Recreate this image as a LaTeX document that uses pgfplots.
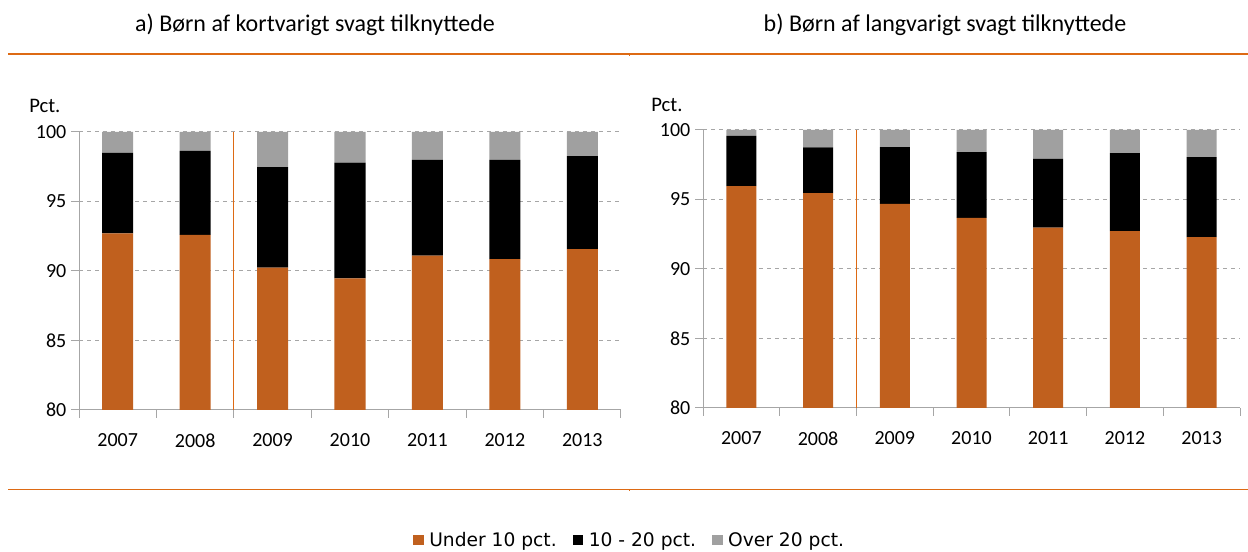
\documentclass[border=0pt]{standalone}
\usepackage{fontspec}
\setmainfont{Carlito}
\newfontfamily\legfont{DejaVu Sans}
\usepackage{pgfplots}
\pgfplotsset{compat=1.18}
\definecolor{barorange}{HTML}{C0601E}
\definecolor{lineorange}{HTML}{DD6A14}
\definecolor{bargray}{HTML}{A0A0A0}
\definecolor{axgray}{HTML}{A6A6A6}
\pgfplotsset{
  panel/.style={
    scale only axis, height=208.5pt,
    ybar stacked,
    xmin=-0.5, xmax=6.5, ymin=80, ymax=100,
    xtick={0,1,2,3,4,5,6},
    xticklabels={2007,2008,2009,2010,2011,2012,2013},
    minor xtick={-0.5,0.5,1.5,2.5,3.5,4.5,5.5,6.5},
    ytick={80,85,90,95,100},
    axis x line*=bottom, axis y line*=left,
    axis line style={axgray, line width=0.75pt},
    ymajorgrids, grid style={axgray, dashed, line width=0.75pt},
    major tick length=6pt, minor tick length=6pt, tick align=outside,
    major x tick style={draw=none},
    minor x tick style={axgray, line width=0.75pt},
    y tick style={axgray, line width=0.75pt},
    tick label style={font=\fontsize{15}{18}\selectfont},
    xticklabel style={yshift=-8pt},
    /pgf/number format/assume math mode=true,
    title={Pct.}, title style={font=\fontsize{15.5}{18}\selectfont, anchor=center},
  },
  leg/.style={legend image code/.code={\fill[##1] (0pt,-4pt) rectangle (8pt,4pt);}},
}
\begin{document}
\begin{tikzpicture}
\useasboundingbox (0,0) rectangle (936pt,414pt);
\node[font=\fontsize{18}{21}\selectfont] at (236.25pt,395.25pt) {a) Børn af kortvarigt svagt tilknyttede};
\node[font=\fontsize{18}{21}\selectfont] at (708.75pt,395.25pt) {b) Børn af langvarigt svagt tilknyttede};
\draw[lineorange, line width=0.9pt] (6pt,373.5pt) -- (936pt,373.5pt);
\draw[lineorange, line width=0.6pt] (471.75pt,373.5pt) -- (471.75pt,372pt);
\draw[lineorange, line width=0.8pt] (6pt,47pt) -- (936pt,47pt);
\draw[lineorange, line width=0.6pt] (471.75pt,47pt) -- (471.75pt,45.5pt);

\begin{axis}[panel, at={(59.25pt,106.5pt)}, anchor=south west, width=406.5pt,
  bar width=23.25pt,
  title style={at={(-0.063,1.065)}},
  legend style={at={(1.0166,-0.468)}, anchor=center, draw=none, fill=none,
    legend columns=3, font=\legfont\fontsize{14}{16}\selectfont,
    /tikz/every even column/.append style={column sep=10pt},
    /tikz/every odd column/.append style={column sep=2pt}},
]
\addplot[fill=barorange, draw=none, leg] coordinates {(0,92.70) (1,92.60) (2,90.25) (3,89.47) (4,91.10) (5,90.85) (6,91.57)};
\addplot[fill=black, draw=none, leg] coordinates {(0,5.80) (1,6.05) (2,7.22) (3,8.33) (4,6.90) (5,7.15) (6,6.70)};
\addplot[fill=bargray, draw=none, leg] coordinates {(0,1.50) (1,1.35) (2,2.53) (3,2.20) (4,2.00) (5,2.00) (6,1.73)};
\legend{Under 10 pct., 10 - 20 pct., Over 20 pct.}
\draw[lineorange, line width=0.75pt] (axis cs:1.5,80) -- (axis cs:1.5,100);
\end{axis}

\begin{axis}[panel, at={(527.25pt,108pt)}, anchor=south west, width=402.75pt,
  bar width=22.5pt,
  title style={at={(-0.067,1.062)}},
]
\addplot[fill=barorange, draw=none] coordinates {(0,95.96) (1,95.46) (2,94.69) (3,93.68) (4,92.98) (5,92.72) (6,92.29)};
\addplot[fill=black, draw=none] coordinates {(0,3.61) (1,3.29) (2,4.08) (3,4.73) (4,4.95) (5,5.62) (6,5.76)};
\addplot[fill=bargray, draw=none] coordinates {(0,0.43) (1,1.25) (2,1.23) (3,1.59) (4,2.07) (5,1.66) (6,1.95)};
\draw[lineorange, line width=0.75pt] (axis cs:1.5,80) -- (axis cs:1.5,100);
\end{axis}
\end{tikzpicture}
\end{document}
